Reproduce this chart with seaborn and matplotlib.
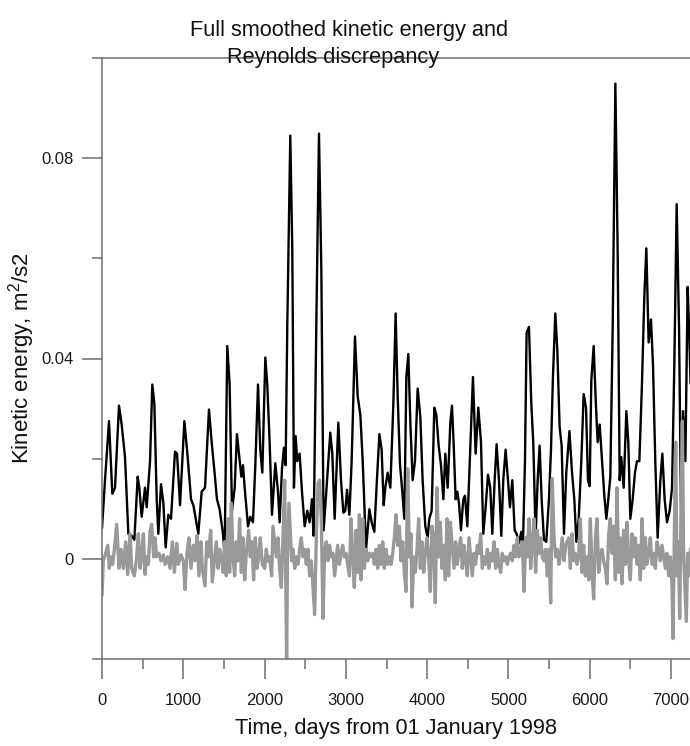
import numpy as np
import pandas as pd
import matplotlib
matplotlib.use("Agg")
import matplotlib.pyplot as plt
import seaborn as sns
from matplotlib.ticker import FixedLocator, FixedFormatter

# ---------------- data ----------------
# full smoothed kinetic energy, in 1e-3 m2/s2
ke_days = [0, 37, 86, 127, 160, 209, 242, 283, 324, 365, 398, 439, 459, 488, 529, 550, 591, 619, 644, 673,
           693, 726, 755, 783, 816, 849, 898, 923, 960, 1013, 1054, 1095, 1124, 1185, 1226, 1267, 1316, 1349,
           1386, 1414, 1447, 1488, 1508, 1541, 1570, 1599, 1632, 1660, 1685, 1714, 1734, 1755, 1796, 1824,
           1857, 1886, 1919, 1947, 1972, 2009, 2033, 2062, 2091, 2132, 2165, 2185, 2214, 2238, 2259, 2279,
           2316, 2341, 2361, 2382, 2402, 2431, 2460, 2493, 2525, 2554, 2583, 2603, 2636, 2669, 2698, 2726,
           2759, 2808, 2833, 2862, 2907, 2940, 2969, 2993, 3014, 3043, 3071, 3112, 3145, 3178, 3207, 3248,
           3289, 3317, 3350, 3379, 3412, 3440, 3465, 3485, 3514, 3547, 3584, 3612, 3637, 3666, 3690, 3719,
           3744, 3768, 3793, 3821, 3850, 3883, 3916, 3944, 3977, 4006, 4026, 4055, 4088, 4113, 4141, 4170,
           4199, 4223, 4252, 4285, 4305, 4325, 4350, 4371, 4391, 4416, 4444, 4465, 4494, 4522, 4563, 4596,
           4629, 4662, 4690, 4719, 4748, 4776, 4801, 4830, 4854, 4883, 4912, 4936, 4965, 4994, 5018, 5047,
           5076, 5100, 5129, 5158, 5178, 5203, 5223, 5252, 5281, 5305, 5334, 5359, 5383, 5408, 5437, 5465,
           5498, 5523, 5547, 5576, 5601, 5629, 5654, 5683, 5711, 5750, 5782, 5810, 5835, 5864, 5896, 5925,
           5954, 5978, 5999, 6019, 6048, 6073, 6097, 6122, 6151, 6179, 6204, 6228, 6253, 6282, 6315, 6343,
           6368, 6388, 6417, 6450, 6474, 6499, 6528, 6556, 6581, 6610, 6642, 6671, 6696, 6724, 6753, 6778,
           6806, 6835, 6868, 6893, 6921, 6950, 6983, 7012, 7040, 7069, 7098, 7122, 7147, 7176, 7204, 7221,
           7240]
ke_milli = [6.1, 15.7, 27.5, 13.0, 14.2, 30.6, 26.8, 20.3, 5.0, 4.6, 3.8, 16.4, 14.2, 8.4, 14.2, 10.3, 19.5,
            34.8, 31.0, 11.9, 5.0, 14.9, 11.1, 2.3, 8.8, 8.0, 21.4, 21.0, 10.7, 27.5, 20.3, 11.9, 10.7, 5.0,
            13.4, 14.2, 29.8, 23.3, 17.0, 11.9, 9.9, 5.0, 1.0, 42.5, 34.8, 9.6, 14.2, 24.9, 21.0, 16.4, 18.7,
            14.2, 6.5, 8.4, 7.3, 18.7, 34.8, 21.8, 17.2, 40.2, 34.8, 23.3, 8.8, 19.1, 13.4, 7.3, 18.0, 22.2,
            18.7, 46.3, 84.5, 61.6, 14.2, 24.5, 19.5, 21.0, 13.4, 6.5, 9.6, 7.3, 11.9, 4.6, 46.3, 84.9, 57.8,
            5.7, 13.4, 25.2, 21.0, 8.0, 27.2, 15.7, 9.2, 9.6, 13.8, 8.8, 19.5, 44.4, 32.5, 28.7, 19.5, 1.9,
            9.9, 7.3, 5.4, 14.9, 24.9, 21.8, 10.7, 14.2, 17.2, 14.2, 31.0, 49.0, 32.5, 18.7, 14.2, 8.0, 36.3,
            40.9, 27.2, 15.7, 19.5, 34.0, 28.3, 15.7, 6.5, 4.2, 8.0, 9.6, 30.2, 28.7, 22.6, 18.7, 11.9, 21.0,
            14.2, 27.2, 30.6, 23.3, 11.9, 13.4, 11.1, 5.7, 11.9, 12.6, 6.5, 18.7, 36.3, 21.0, 30.2, 23.3, 5.0,
            10.3, 16.8, 14.2, 5.0, 15.7, 22.9, 15.7, 4.6, 15.7, 21.8, 15.7, 10.3, 15.7, 5.7, 5.0, 3.1, 5.4,
            2.7, 19.5, 45.1, 46.3, 31.0, 23.3, 4.6, 15.7, 22.6, 11.9, 3.8, 3.4, 11.9, 21.8, 36.3, 49.0, 41.7,
            26.4, 22.6, 5.0, 17.2, 25.5, 17.2, 11.9, 3.4, 8.0, 19.5, 32.9, 30.2, 15.7, 14.5, 35.6, 42.5, 31.7,
            23.3, 26.8, 19.5, 12.6, 8.0, 11.9, 16.4, 46.3, 94.9, 61.6, 15.7, 20.3, 14.2, 29.5, 23.3, 8.0,
            11.9, 17.2, 19.5, 19.5, 34.8, 52.4, 62.0, 43.2, 47.8, 38.6, 19.5, 4.2, 15.7, 21.0, 11.9, 7.3, 9.6,
            14.2, 38.6, 70.8, 46.3, 10.3, 29.5, 19.5, 54.3, 46.3, 35.0]

# Reynolds discrepancy, in 1e-3 m2/s2
rd_days = [0, 16, 45, 70, 90, 111, 131, 152, 181, 209, 234, 263, 291, 316, 345, 365, 398, 427, 447, 468, 488,
           509, 529, 550, 570, 591, 611, 636, 652, 673, 701, 726, 755, 775, 808, 837, 865, 890, 919, 939, 972,
           1001, 1021, 1046, 1070, 1095, 1124, 1144, 1169, 1193, 1218, 1234, 1267, 1288, 1308, 1337, 1357,
           1406, 1427, 1447, 1468, 1488, 1509, 1529, 1550, 1570, 1591, 1611, 1632, 1652, 1673, 1693, 1714,
           1734, 1755, 1775, 1804, 1824, 1845, 1865, 1886, 1906, 1927, 1947, 1972, 2001, 2021, 2042, 2062,
           2087, 2103, 2124, 2144, 2165, 2185, 2206, 2226, 2247, 2259, 2271, 2283, 2300, 2316, 2333, 2349,
           2370, 2390, 2411, 2431, 2452, 2472, 2493, 2513, 2534, 2554, 2575, 2595, 2616, 2636, 2657, 2677,
           2698, 2718, 2739, 2759, 2780, 2800, 2821, 2841, 2862, 2899, 2920, 2940, 2961, 2981, 3002, 3022,
           3043, 3063, 3084, 3104, 3125, 3145, 3166, 3186, 3207, 3227, 3248, 3268, 3289, 3309, 3330, 3350,
           3371, 3391, 3412, 3432, 3453, 3473, 3494, 3514, 3535, 3555, 3576, 3596, 3617, 3637, 3658, 3678,
           3699, 3719, 3740, 3760, 3781, 3801, 3813, 3834, 3854, 3875, 3895, 3916, 3936, 3957, 3977, 3998,
           4018, 4039, 4059, 4080, 4100, 4121, 4141, 4162, 4182, 4203, 4223, 4244, 4264, 4285, 4330, 4350,
           4371, 4391, 4412, 4432, 4453, 4473, 4494, 4514, 4535, 4555, 4576, 4596, 4617, 4637, 4658, 4678,
           4699, 4719, 4740, 4760, 4781, 4801, 4822, 4842, 4863, 4883, 4904, 4924, 4945, 4965, 4986, 5006,
           5027, 5047, 5068, 5088, 5109, 5129, 5150, 5170, 5191, 5211, 5232, 5252, 5273, 5293, 5314, 5334,
           5355, 5375, 5396, 5416, 5437, 5457, 5478, 5498, 5519, 5539, 5560, 5580, 5601, 5621, 5642, 5662,
           5683, 5703, 5741, 5761, 5782, 5802, 5823, 5843, 5864, 5884, 5905, 5925, 5946, 5966, 5987, 6007,
           6028, 6048, 6069, 6089, 6110, 6130, 6151, 6171, 6192, 6212, 6233, 6253, 6274, 6294, 6315, 6335,
           6356, 6376, 6397, 6417, 6438, 6458, 6479, 6499, 6520, 6540, 6561, 6581, 6602, 6622, 6643, 6663,
           6684, 6704, 6725, 6745, 6766, 6786, 6807, 6827, 6848, 6868, 6889, 6909, 6930, 6950, 6971, 6991,
           7012, 7024, 7040, 7057, 7073, 7089, 7106, 7122, 7139, 7155, 7171, 7188, 7204, 7221, 7240]
rd_milli = [-7.3, -0.4, 1.1, 2.7, -1.9, 0.4, -1.1, 1.9, 6.9, -1.9, 1.9, -1.9, 3.4, -3.1, 5.0, -1.9, -3.4, 0.4,
            5.0, -1.9, 0.4, 5.0, -3.1, 0.4, -1.1, 5.4, 6.9, 0.4, 4.2, 0.4, 1.1, -0.4, 0.8, -1.1, 0.4, -1.9,
            3.4, -2.7, 3.1, -1.1, 0.8, -0.4, -6.1, 1.1, 4.2, -1.9, 2.7, -0.4, 4.6, -3.4, 3.4, -1.9, -5.4, 3.4,
            0.4, 5.7, -4.6,
            3.4, -1.9, 1.9, 0.4, -2.7, 3.4, -3.4, 8.0, -2.7, 11.1, 0.4, -3.4, 3.4, -0.4, 8.0, -2.7, 4.2, -4.2,
            1.1, 5.7, 0.4, 3.4, -4.2, 4.2, -1.9, 0.4, 4.2, -1.1, -1.9, 1.9, -0.4, 0.4, -3.4, 6.5, 3.4, 0.4,
            4.2, -1.9, -5.7, 4.2, 15.7, -1.9, -20.5, 1.9, 11.1, 5.7, -0.4, 1.9, -1.9, 0.4, -1.1, 1.9, 4.2, 0.4,
            1.9, -1.1, 1.9, -3.4, -0.4, -5.7, -11.1, 4.2, 15.0, 15.7, 8.0, -11.9, 1.9, 3.4, -0.4, 2.7, 0.4,
            1.1, -3.4,
            2.7, -1.1, 1.1, 2.7, 0.4, 1.1, -1.1, -3.4, 8.0, 0.4, -5.7, 5.7, -2.7, 8.8, -4.2, 8.0, -1.9, 1.9,
            -0.4, 1.1, 0.4, 1.1, -1.1, 1.9, -1.9, 2.7, -1.1, 3.4, -1.9, 1.9, -1.1, 0.4, -1.1, 1.1, 4.2, 8.8,
            2.7, 6.5, -0.4, 3.4, -2.7, -6.5, 18.0, 0.4, 5.0, -9.6, 0.4, -2.7, 1.9, 8.0, -1.9, 3.4, -2.7, 1.1,
            4.2, 0.4, -6.5, 6.5, 4.2, -8.8, 14.2, 0.4, 7.3, -1.9, 2.7, -4.2, 8.0, -3.4, 7.3,
            -1.9, 3.4, -1.1, 1.9, 4.2, -1.9, 2.7, -0.4, -3.4, 4.2, 0.4, -3.4, 1.1, -1.1, 2.7, 1.1, 5.0, -1.9,
            0.4, -1.1, 1.9, -1.9, 1.1, -0.4, 3.4, -1.9, 1.9, -1.1, -2.7, 1.1, -0.4, 0.4, -1.1, 0.4, 1.1, -0.4,
            2.7, 0.4, 4.2, 0.4, 1.1, 3.4, -6.5, 4.2, 0.4, 8.0, -1.9, 3.4, 8.0, -2.7, 5.7, 1.1, 4.2, 0.4, -0.4,
            1.9, -3.4, 1.9, -8.8, 16.0, 4.2, 0.4, 1.9, -1.1, 1.1, 4.2, -0.4, 2.7,
            4.2, -1.9, 5.0, -0.4, 1.1, -1.1, 0.4, 8.0, -2.7, 2.7, -3.4, 0.4, -4.2, 8.0, -2.7, -8.0, 4.2, 8.0,
            -2.7, 0.4, 1.9, -0.4, -1.9, -5.0, 5.0, 8.0, 1.1, 6.5, -4.2, 14.2, -2.7, 4.2, -5.0, 5.7, -1.1, 7.3,
            -0.4, -4.2, 5.0, 0.4, 4.2, -1.1, 2.7, -4.2, 8.0, -1.9, 4.2, -1.1, 1.1, 4.2, -1.1, 1.1, -1.9, 3.4,
            1.9, -0.4, 2.7, 0.4, -1.9, 1.1, -3.4, 0.4, -5.7, -15.9, 4.2, 23.3, -3.4, 3.4, -11.9, 9.6, 27.5,
            0.4, -5.7, -12.5, 1.1, -3.4, 2.0]

x_major = [0, 1000, 2000, 3000, 4000, 5000, 6000, 7000]
x_minor = [500, 1500, 2500, 3500, 4500, 5500, 6500]
y_major = [0.0, 0.04, 0.08]
y_major_labels = ["0", "0.04", "0.08"]
y_minor = [-0.02, 0.02, 0.06, 0.10]
title_lines = ["Full smoothed kinetic energy and", "Reynolds discrepancy"]
x_title = "Time, days from 01 January 1998"
y_title = "Kinetic energy, m$^2$/s2"

# ---------------- style ----------------
sns.set_style("ticks")
plt.rcParams["font.family"] = ["Liberation Sans", "DejaVu Sans"]
plt.rcParams["mathtext.fontset"] = "custom"
plt.rcParams["mathtext.rm"] = "Liberation Sans"
plt.rcParams["mathtext.it"] = "Liberation Sans"
plt.rcParams["mathtext.default"] = "regular"

spine_col = "#6e6e6e"

fig = plt.figure(figsize=(6.9, 7.46), dpi=100)
ax = fig.add_axes([102 / 690, 87 / 746, 588 / 690, 601 / 746])

ke = pd.DataFrame({"day": ke_days, "energy": np.array(ke_milli) * 1e-3})
rd = pd.DataFrame({"day": rd_days, "energy": np.array(rd_milli) * 1e-3})

sns.lineplot(data=ke, x="day", y="energy", color="black", linewidth=1.7,
             estimator=None, sort=False, ax=ax)
sns.lineplot(data=rd, x="day", y="energy", color="#999999", linewidth=2.4,
             estimator=None, sort=False, ax=ax)

ax.set_xlim(0, 7233)
ax.set_ylim(-0.02, 0.1)

ax.xaxis.set_major_locator(FixedLocator(x_major))
ax.xaxis.set_minor_locator(FixedLocator(x_minor))
ax.yaxis.set_major_locator(FixedLocator(y_major))
ax.yaxis.set_major_formatter(FixedFormatter(y_major_labels))
ax.yaxis.set_minor_locator(FixedLocator(y_minor))

ax.tick_params(which="major", length=14.4, width=1.1, color=spine_col, direction="out",
               labelsize=12, labelcolor="#1a1a1a")
ax.tick_params(which="minor", length=7.2, width=1.1, color=spine_col, direction="out")
ax.tick_params(axis="y", which="major", pad=6)
ax.tick_params(axis="x", which="major", pad=10)

for side in ["left", "top", "bottom"]:
    ax.spines[side].set_color(spine_col)
    ax.spines[side].set_linewidth(1.1)
ax.spines["right"].set_visible(False)

ax.set_xlabel(x_title, fontsize=15.7, color="#111111")
ax.set_ylabel(y_title, fontsize=16, color="#111111")
ax.xaxis.set_label_coords(0.5, -0.098)
ax.yaxis.set_label_coords(-0.11, 0.5)

fig.text(190 / 690, 1 - 36 / 746, title_lines[0], fontsize=15.7, ha="left", va="baseline", color="#111111")
fig.text(227 / 690, 1 - 63 / 746, title_lines[1], fontsize=15.7, ha="left", va="baseline", color="#111111")

fig.savefig("out.png", dpi=100)
